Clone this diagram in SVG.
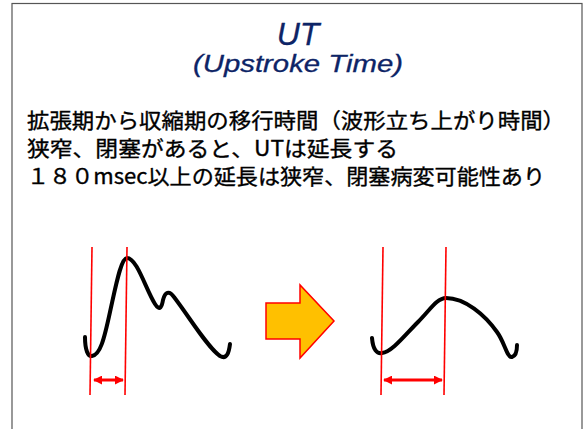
<svg xmlns="http://www.w3.org/2000/svg" width="584" height="429" viewBox="0 0 584 429">
<style>
.title{font-family:"Liberation Sans","Noto Sans CJK JP",sans-serif;font-style:italic;fill:#0d2466;stroke:#0d2466;stroke-width:0.3;text-anchor:middle}
.body{font-family:"Noto Sans CJK JP",sans-serif;font-size:21px;fill:#000;stroke:#000;stroke-width:0.35}
.wave{fill:none;stroke:#000;stroke-width:4;stroke-linecap:round;stroke-linejoin:round}
.mark{stroke:#ff0000;stroke-width:1.6;fill:none}
.dim{stroke:#ff0000;stroke-width:3;fill:none}
</style>
<defs>
<marker id="ah" viewBox="0 0 10 10" refX="9" refY="5" markerWidth="3" markerHeight="3" orient="auto-start-reverse" markerUnits="strokeWidth">
<path d="M0,0 L10,5 L0,10 z" fill="#ff0000"/>
</marker>
</defs>
<rect x="0" y="0" width="584" height="429" fill="#fff"/>
<rect x="12" y="3.5" width="570" height="440" fill="none" stroke="#555" stroke-width="1.2"/>
<g id="title">
<text class="title" x="298" y="45" font-size="32">UT</text>
<text class="title" x="298" y="72" font-size="24" textLength="210" lengthAdjust="spacingAndGlyphs">(Upstroke Time)</text>
</g>
<g id="description">
<text class="body" x="27" y="128" textLength="538" lengthAdjust="spacingAndGlyphs">拡張期から収縮期の移行時間（波形立ち上がり時間）</text>
<text class="body" x="27" y="156" textLength="371" lengthAdjust="spacingAndGlyphs">狭窄、閉塞があると、UTは延長する</text>
<text class="body" x="27" y="184" textLength="518" lengthAdjust="spacingAndGlyphs">１８０msec以上の延長は狭窄、閉塞病変可能性あり</text>
</g>
<g id="wave-normal">
<path class="wave" d="M85,337 C85,350 88,357 92,356 C100,355 104,340 110,312 C116,285 121,258 127,258 C137,258 146,290 155,304 C160,312 162,306 163,300 C165,292 169,290 174,297 C190,318 208,348 220,356 C227,360 229,352 230,344"/>
<line class="mark" x1="92" y1="247" x2="90" y2="395"/>
<line class="mark" x1="127" y1="247" x2="125" y2="395"/>
<line class="dim" x1="94" y1="380" x2="123" y2="380" marker-start="url(#ah)" marker-end="url(#ah)"/>
</g>
<g id="arrow">
<polygon points="266,303 300,303 300,285 334,321 300,358 300,339 266,339" fill="#ffc000" stroke="#ff0000" stroke-width="1.5"/>
</g>
<g id="wave-stenosis">
<path class="wave" d="M372,338 C373,350 377,354 382,353 C392,352 405,335 418,322 C430,310 437,298 446,298 C465,298 485,315 497,332 C505,343 507,358 512,357 C516,356 517,350 517,345"/>
<line class="mark" x1="383" y1="247" x2="381" y2="395"/>
<line class="mark" x1="446" y1="247" x2="444" y2="395"/>
<line class="dim" x1="384" y1="380" x2="442" y2="380" marker-start="url(#ah)" marker-end="url(#ah)"/>
</g>
</svg>
